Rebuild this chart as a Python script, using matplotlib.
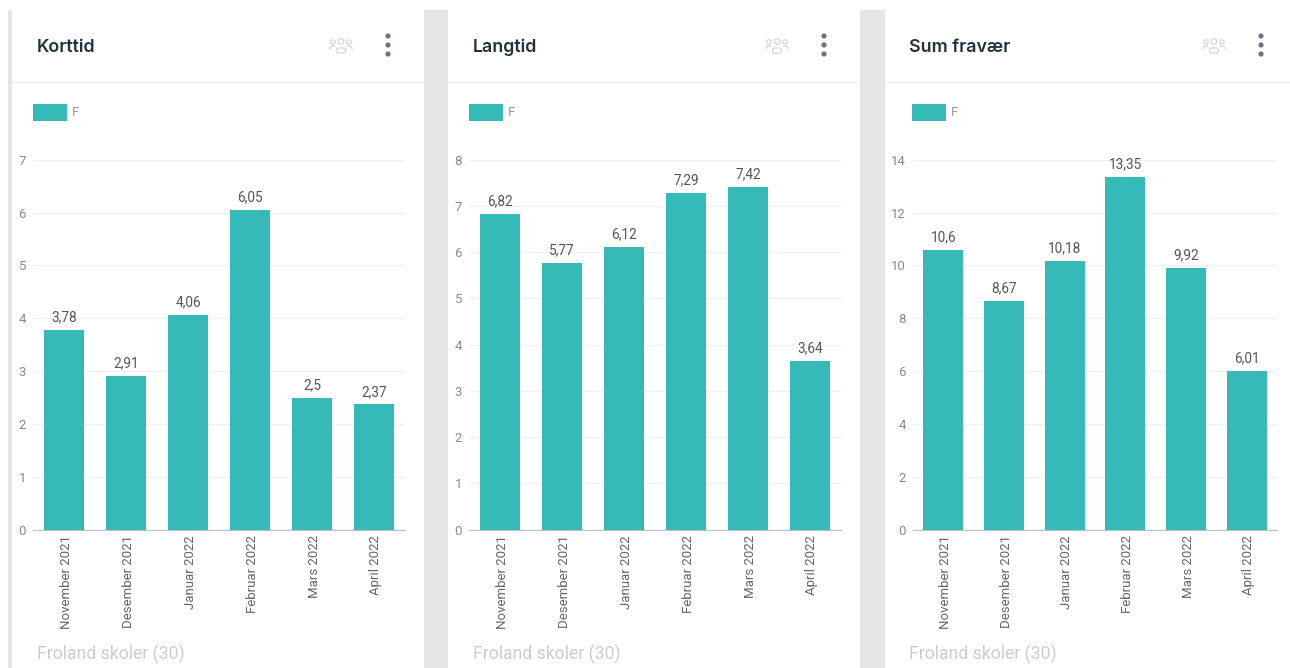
#!/usr/bin/env python
# -*- coding: utf-8 -*-

import matplotlib
matplotlib.use("Agg")
import matplotlib.pyplot as plt
from matplotlib.patches import Circle, Rectangle, FancyBboxPatch, Arc
from matplotlib.transforms import ScaledTranslation

W, H = 1290, 668

months = ["November 2021", "Desember 2021", "Januar 2022", "Februar 2022", "Mars 2022", "April 2022"]
korttid = [3.78, 2.91, 4.06, 6.05, 2.5, 2.37]
langtid = [6.82, 5.77, 6.12, 7.29, 7.42, 3.64]
sum_fravaer = [10.6, 8.67, 10.18, 13.35, 9.92, 6.01]
titles = ["Korttid", "Langtid", "Sum fravær"]
footer = "Froland skoler (30)"
legend_name = "F"

TEAL = "#36bab8"
plt.rcParams["font.family"] = ["Roboto", "DejaVu Sans"]

fig = plt.figure(figsize=(W / 100, H / 100), dpi=100, facecolor="white")

# fond en pixels pour les cartes, icones, titres
bg = fig.add_axes([0, 0, 1, 1])
bg.set_xlim(0, W)
bg.set_ylim(H, 0)
bg.axis("off")

for x0, x1 in [(8, 12), (424, 448), (860, 885)]:
    bg.add_patch(Rectangle((x0, 10), x1 - x0, H - 10, color="#e5e5e5", lw=0))
for x0, x1 in [(12, 424), (448, 860), (885, 1290)]:
    bg.plot([x0, x1], [82, 82], color="#ececec", lw=1)


def draw_icon(cx, cy):
    col = "#d3d6d9"
    for dx, r in [(-8, 2.2), (0, 2.8), (8, 2.2)]:
        bg.add_patch(Circle((cx + dx, cy - 5.5 + (0 if dx == 0 else 0.5)), r, fill=False, ec=col, lw=0.9))
    bg.add_patch(FancyBboxPatch((cx - 4.5, cy + 1), 9, 5, boxstyle="round,pad=0,rounding_size=2",
                                fill=False, ec=col, lw=0.9))
    bg.add_patch(Arc((cx - 8, cy + 3), 7, 8, theta1=190, theta2=300, ec=col, lw=0.9))
    bg.add_patch(Arc((cx + 8, cy + 3), 7, 8, theta1=240, theta2=350, ec=col, lw=0.9))


def draw_panel(values, title, ymax, step, left, right, title_x, icon_x, dots_x, swatch_x):
    ax = fig.add_axes([left / W, 1 - 529.7 / H, (right - left) / W, 370 / H])
    ax.patch.set_alpha(0)
    xs = range(len(months))
    bars = ax.bar(xs, values, width=0.66, color=TEAL, zorder=3)
    ax.set_xlim(-0.5, len(months) - 0.5)
    ax.set_ylim(0, ymax)
    ax.set_yticks(range(0, ymax + 1, step))
    ax.set_xticks(list(xs))
    ax.set_xticklabels(months, rotation=90, fontsize=9.5, color="#666666")
    ax.tick_params(axis="x", length=0, pad=4)
    ax.tick_params(axis="y", length=0, pad=5, labelsize=9.5, labelcolor="#8a8a8a")
    # les libelles sont un peu decales a droite dans l'original
    for lab in ax.get_xticklabels():
        lab.set_transform(lab.get_transform() + ScaledTranslation(2 / 100, 0, fig.dpi_scale_trans))
    ax.grid(axis="y", color="#f0f0f0", lw=1, zorder=0)
    for s in ["top", "right", "left"]:
        ax.spines[s].set_visible(False)
    ax.spines["bottom"].set_color("#bdbdbd")
    ax.bar_label(bars, labels=[str(v).replace(".", ",") for v in values],
                 padding=4, fontsize=9.8, color="#555555", zorder=4)

    bg.text(title_x, 47, title, fontsize=12.8, fontweight="semibold", color="#22313f",
            family=["Inter", "DejaVu Sans"], va="center", ha="left")
    bg.text(title_x, 654, footer, fontsize=12.7, color="#c9cdd2", va="center", ha="left")
    bg.add_patch(Rectangle((swatch_x, 104), 34, 17, color=TEAL, lw=0))
    bg.text(swatch_x + 39, 113, legend_name, fontsize=9.5, color="#999999", va="center", ha="left")
    draw_icon(icon_x, 47)
    for dy in [36, 45, 54]:
        bg.add_patch(Circle((dots_x, dy), 2.6, color="#6b7480", lw=0))


draw_panel(korttid, titles[0], 7, 1, 33, 405, 37, 341, 388, 33)
draw_panel(langtid, titles[1], 8, 1, 469, 841, 473, 777, 824, 469)
draw_panel(sum_fravaer, titles[2], 14, 2, 913, 1277, 909, 1214, 1261, 912)

fig.savefig("out.png", dpi=100)
